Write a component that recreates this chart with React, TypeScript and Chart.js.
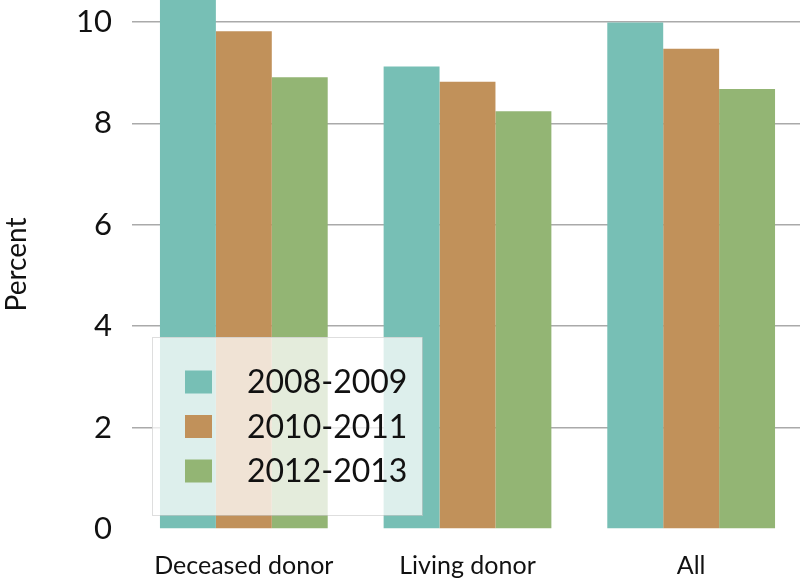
import React, { useEffect, useRef } from "react";
import { Chart, registerables } from "chart.js";

Chart.register(...registerables);

const categories = ["Deceased donor", "Living donor", "All"];
const seriesLabels = ["2008-2009", "2010-2011", "2012-2013"];
const values2008 = [10.45, 9.12, 9.99];
const values2010 = [9.82, 8.82, 9.47];
const values2012 = [8.91, 8.24, 8.68];
const colors = ["#77bfb5", "#c1915a", "#93b574"];
const yTicks = [0, 2, 4, 6, 8, 10];

const FONT = "Lato, 'Open Sans', sans-serif";

const insideLegend = {
  id: "insideLegend",
  afterDatasetsDraw(chart: any) {
    const ctx = chart.ctx;
    const x0 = 152;
    const y0 = 337;
    const w = 270;
    const h = 178;
    ctx.save();
    ctx.fillStyle = "rgba(255,255,255,0.75)";
    ctx.fillRect(x0, y0, w, h);
    ctx.strokeStyle = "rgba(200,200,200,0.6)";
    ctx.lineWidth = 1;
    ctx.strokeRect(x0 + 0.5, y0 + 0.5, w, h);
    chart.data.datasets.forEach((ds: any, i: number) => {
      const cy = y0 + 45 + i * 44.5;
      ctx.fillStyle = ds.backgroundColor;
      ctx.fillRect(x0 + 33, cy - 11.5, 27, 23);
      ctx.fillStyle = "#111";
      ctx.font = `32px ${FONT}`;
      ctx.textBaseline = "middle";
      ctx.textAlign = "left";
      ctx.fillText(ds.label, x0 + 95, cy + 1);
    });
    ctx.restore();
  },
};

export default function App() {
  const ref = useRef<HTMLCanvasElement>(null);
  useEffect(() => {
    if (!ref.current) return;
    const chart = new Chart(ref.current, {
      type: "bar",
      data: {
        labels: categories,
        datasets: [values2008, values2010, values2012].map((v, i) => ({
          label: seriesLabels[i],
          data: v,
          backgroundColor: colors[i],
          borderWidth: 0,
          barPercentage: 1,
          categoryPercentage: 0.75,
        })),
      },
      options: {
        animation: false,
        responsive: false,
        maintainAspectRatio: false,
        layout: { padding: 0 },
        plugins: { legend: { display: false }, tooltip: { enabled: false } },
        scales: {
          x: {
            grid: { display: false, drawTicks: false },
            border: { display: false },
            ticks: {
              color: "#111",
              font: { family: FONT, size: 25 },
              padding: 22,
              maxRotation: 0,
            },
            afterFit: (s: any) => {
              s.height = 53;
              s.paddingLeft = 0;
              s.paddingRight = 0;
            },
          },
          y: {
            min: 0,
            max: 10.434,
            afterBuildTicks: (s: any) => {
              s.ticks = yTicks.map((v) => ({ value: v }));
            },
            grid: {
              drawTicks: false,
              color: (c: any) => (c.tick && c.tick.value === 0 ? "rgba(0,0,0,0)" : "#aaaaaa"),
              lineWidth: 1.5,
            },
            border: { display: false },
            ticks: {
              color: "#111",
              font: { family: FONT, size: 31 },
              padding: 20,
              includeBounds: false,
            },
            title: {
              display: true,
              text: "Percent",
              color: "#111",
              font: { family: FONT, size: 28 },
              padding: 0,
            },
            afterFit: (s: any) => {
              s.width = 132;
              s.paddingTop = 0;
              s.paddingBottom = 0;
            },
          },
        },
      },
      plugins: [insideLegend],
    });
    return () => chart.destroy();
  }, []);
  return (
    <div style={{ position: "fixed", left: 0, top: 0, width: 800, height: 582, overflow: "hidden", background: "#fff" }}>
      <canvas ref={ref} width={803} height={582} style={{ display: "block" }} />
    </div>
  );
}
